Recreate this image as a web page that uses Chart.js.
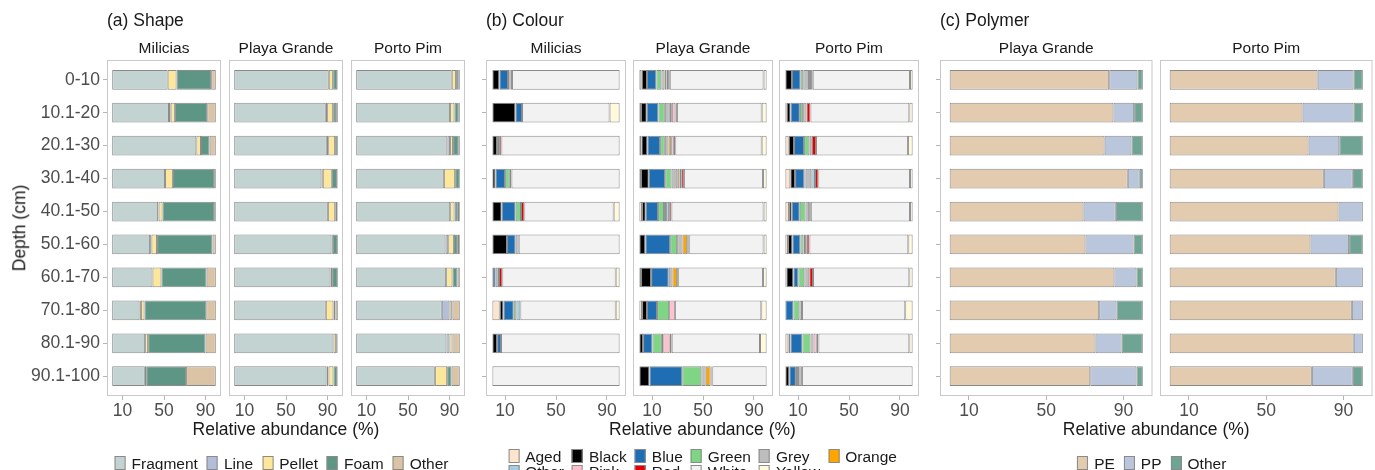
<!DOCTYPE html>
<html>
<head>
<meta charset="utf-8">
<script src="https://cdn.jsdelivr.net/npm/chart.js@4/dist/chart.umd.min.js"></script>
<style>
  html, body { margin: 0; padding: 0; background: #fff; }
  #fig { position: relative; width: 1375px; height: 470px; overflow: hidden;
         font-family: "Liberation Sans", Arial, sans-serif; }
  .panel { position: absolute; top: 0; }
  .txt { position: absolute; white-space: nowrap; line-height: 1; }
  .legend { position: absolute; display: flex; align-items: center; transform: translateX(-50%);
            font-size: 15.5px; color: #1a1a1a; line-height: 1; }
  .legend.grid { display: grid; grid-auto-rows: 15.5px; column-gap: 8px; }
  .item { display: flex; align-items: center; margin-right: 9px; }
  .grid .item { margin-right: 0; }
  .key { width: 11px; height: 14px; box-sizing: border-box; border: 1px solid #8a8a8a; margin-right: 6px; }
</style>
</head>
<body>
<div id="fig"></div>
<script>
// Depth classes (rows, top to bottom) and x tick values
const depths = ['0-10', '10.1-20', '20.1-30', '30.1-40', '40.1-50',
                '50.1-60', '60.1-70', '70.1-80', '80.1-90', '90.1-100'];
const xTicks = [10, 50, 90];

// Category order within each stacked bar
const shapeTypes = ['Fragment', 'Line', 'Pellet', 'Foam', 'Other'];
const colourTypes = ['Aged', 'Black', 'Blue', 'Green', 'Grey', 'Orange',
                     'Other', 'Pink', 'Red', 'White', 'Yellow'];
const polymerTypes = ['PE', 'PP', 'Other'];

// Relative abundance (%) per depth row; columns follow the type arrays above
const shapeMilicias = [
  [53.5, 0, 8.6, 33.4, 4.5],
  [54.8, 1.6, 4.1, 31.2, 8.3],
  [81.2, 0, 4.5, 8.3, 6.0],
  [51.0, 0, 7.6, 39.8, 1.6],
  [44.3, 0.5, 3.8, 49.8, 1.6],
  [36.6, 1.3, 5.4, 53.5, 3.2],
  [38.9, 0, 8.6, 43.6, 8.9],
  [26.4, 1.3, 3.5, 59.6, 9.2],
  [31.8, 0, 2.9, 55.4, 9.9],
  [31.5, 0, 1.3, 38.5, 28.7]
];
const shapePlayaGrande = [
  [91.3, 0, 4.2, 3.9, 0.6],
  [88.4, 1.3, 5.8, 2.9, 1.6],
  [89.4, 1.3, 6.7, 2.6, 0],
  [84.2, 1.3, 8.7, 5.2, 0.6],
  [90.4, 0, 7.1, 1.9, 0.6],
  [93.9, 0, 1.3, 4.8, 0],
  [92.9, 0, 1.6, 5.5, 0],
  [88.4, 0, 7.4, 1.9, 2.3],
  [95.8, 0, 2.6, 1.0, 0.6],
  [89.1, 1.9, 4.8, 3.6, 0.6]
];
const shapePortoPim = [
  [92.2, 0, 4.2, 2.6, 1.0],
  [90.6, 0, 4.2, 4.2, 1.0],
  [88.0, 2.6, 2.9, 5.5, 1.0],
  [84.6, 0, 10.9, 4.5, 0],
  [90.7, 0, 4.2, 3.2, 1.9],
  [86.2, 2.6, 5.5, 3.8, 1.9],
  [86.8, 0, 6.1, 4.8, 2.3],
  [82.6, 7.4, 2.3, 0.6, 7.1],
  [87.1, 2.9, 2.9, 0, 7.1],
  [75.9, 0, 11.9, 4.2, 8.0]
];

const colourMilicias = [
  [0, 5.5, 6.8, 1.0, 0.8, 1.3, 0, 0, 0, 84.6, 0],
  [0, 18.1, 5.2, 0, 0, 0, 0, 0, 0, 68.8, 7.9],
  [0, 3.7, 1.6, 0, 0, 0, 0, 0, 1.8, 92.9, 0],
  [0, 2.4, 7.6, 3.7, 0, 0, 1.3, 0, 0, 85.0, 0],
  [0, 7.3, 11.0, 4.2, 0, 0, 0, 0, 2.6, 70.2, 4.7],
  [0, 11.5, 6.8, 0, 2.4, 0, 0, 0, 0, 79.3, 0],
  [0, 0.5, 2.1, 0, 2.6, 0, 0, 0, 2.6, 89.1, 3.1],
  [5.8, 2.9, 8.1, 2.1, 0, 0, 3.1, 0, 0, 74.9, 3.1],
  [0, 3.7, 3.1, 0, 0, 0, 0, 0, 0, 93.2, 0],
  [0, 0, 0, 0, 0, 0, 0, 0, 0, 100, 0]
];
const colourPlayaGrande = [
  [1.8, 4.2, 7.4, 3.9, 2.4, 1.6, 0, 1.3, 1.3, 73.7, 2.4],
  [1.3, 4.5, 9.2, 5.0, 3.9, 1.6, 0, 2.9, 1.1, 66.6, 3.9],
  [1.6, 4.7, 10.0, 3.7, 2.9, 2.1, 0, 2.1, 1.1, 67.9, 3.9],
  [1.3, 6.1, 12.9, 5.0, 4.5, 1.8, 0, 1.3, 2.1, 62.1, 2.9],
  [2.1, 2.9, 9.7, 4.7, 1.6, 0, 2.4, 0, 1.8, 72.4, 2.4],
  [0, 4.7, 19.5, 5.5, 4.2, 3.7, 0.8, 0, 0.8, 58.4, 2.4],
  [1.3, 7.9, 13.9, 0, 2.9, 3.7, 0.8, 0, 0, 66.6, 2.9],
  [2.1, 3.9, 7.9, 9.5, 0, 0, 0, 4.5, 0, 67.9, 4.2],
  [0, 2.9, 7.4, 7.4, 1.1, 0, 0, 5.0, 1.6, 69.4, 5.2],
  [0, 7.9, 25.8, 15.0, 3.4, 3.9, 0, 0.8, 0.5, 42.7, 0]
];
const colourPortoPim = [
  [0, 5.2, 6.8, 2.1, 4.5, 0, 0, 1.6, 1.3, 76.4, 2.1],
  [1.0, 3.1, 7.3, 2.6, 2.6, 0, 0, 0, 3.1, 77.7, 2.6],
  [2.6, 4.2, 7.9, 4.2, 1.8, 0, 0, 0, 3.4, 72.2, 3.7],
  [3.9, 3.7, 7.3, 1.0, 4.5, 0, 2.9, 0, 2.6, 72.0, 2.1],
  [2.9, 2.1, 6.3, 4.5, 2.9, 0, 0, 0, 1.3, 77.9, 2.1],
  [2.1, 3.4, 6.3, 2.4, 1.3, 1.3, 0, 0, 2.1, 77.7, 3.4],
  [0.8, 5.5, 3.9, 4.7, 3.9, 0, 0, 0, 2.9, 75.7, 2.6],
  [0, 0, 6.3, 4.7, 2.1, 0, 0, 0, 0, 81.1, 5.8],
  [2.4, 1.6, 9.4, 6.3, 2.4, 0, 0, 2.6, 1.3, 71.4, 2.6],
  [0, 3.1, 5.2, 1.6, 3.1, 0, 0, 0, 0, 87.0, 0]
];

const polymerPlayaGrande = [
  [82.6, 14.6, 2.8],
  [84.8, 10.7, 4.5],
  [80.2, 13.9, 5.9],
  [92.2, 6.2, 1.6],
  [69.3, 16.7, 14.0],
  [70.3, 24.9, 4.8],
  [85.3, 11.4, 3.3],
  [77.4, 9.0, 13.6],
  [75.5, 13.5, 11.0],
  [72.8, 23.9, 3.3]
];
const polymerPortoPim = [
  [76.6, 18.6, 4.8],
  [68.8, 26.4, 4.8],
  [71.9, 15.9, 12.2],
  [79.8, 15.0, 5.2],
  [87.4, 12.6, 0],
  [72.9, 20.0, 7.1],
  [86.0, 14.0, 0],
  [94.3, 5.7, 0],
  [95.3, 4.7, 0],
  [73.6, 21.2, 5.2]
];

// Fill colours, matching the type arrays
const shapeColours = ['#c2d3d2', '#b3bfd8', '#fde79b', '#5d9684', '#dbc4a6'];
const colourColours = ['#fde4cd', '#000000', '#1f6db3', '#7ed584', '#bdbdbd', '#ffa500',
                       '#a6cde2', '#ffc0cb', '#e50000', '#f2f2f2', '#fffadc'];
const polymerColours = ['#e3cbb0', '#bac6dc', '#6fa494'];

const EDGE = '#8a8a8a';
const FRAME = '#c9c9c9';
const TICK = '#b5b5b5';
const FONT = '"Liberation Sans", Arial, sans-serif';
Chart.defaults.font.family = FONT;

const groups = {
  shape:   { title: '(a) Shape',   types: shapeTypes,   colours: shapeColours },
  colour:  { title: '(b) Colour',  types: colourTypes,  colours: colourColours },
  polymer: { title: '(c) Polymer', types: polymerTypes, colours: polymerColours }
};

// Facet panels: frame left edge and width in page pixels
const panels = [
  { group: 'shape',   site: 'Milicias',     rows: shapeMilicias,      left: 107,  width: 114,   yAxis: 'labels' },
  { group: 'shape',   site: 'Playa Grande', rows: shapePlayaGrande,   left: 229,  width: 114,   yAxis: 'none' },
  { group: 'shape',   site: 'Porto Pim',    rows: shapePortoPim,      left: 351,  width: 114,   yAxis: 'none' },
  { group: 'colour',  site: 'Milicias',     rows: colourMilicias,     left: 486,  width: 140,   yAxis: 'ticks' },
  { group: 'colour',  site: 'Playa Grande', rows: colourPlayaGrande,  left: 633,  width: 140,   yAxis: 'none' },
  { group: 'colour',  site: 'Porto Pim',    rows: colourPortoPim,     left: 779,  width: 140,   yAxis: 'none' },
  { group: 'polymer', site: 'Playa Grande', rows: polymerPlayaGrande, left: 940,  width: 212.5, yAxis: 'ticks' },
  { group: 'polymer', site: 'Porto Pim',    rows: polymerPortoPim,    left: 1160, width: 212.5, yAxis: 'none' }
];

const FRAME_TOP = 60, FRAME_BOTTOM = 396, CANVAS_H = 420;
const fig = document.getElementById('fig');

// Panel border around the plotting area
const framePlugin = {
  id: 'frame',
  afterDatasetsDraw(chart) {
    const { ctx, chartArea: a } = chart;
    ctx.save();
    ctx.strokeStyle = FRAME;
    ctx.lineWidth = 1;
    ctx.strokeRect(a.left + 0.5, a.top + 0.5, a.width - 1, a.height - 1);
    ctx.restore();
  }
};

function makePanel(p) {
  const g = groups[p.group];
  const yw = p.yAxis === 'labels' ? p.left : (p.yAxis === 'ticks' ? 8 : 0);
  const w = Math.ceil(yw + p.width);
  const div = document.createElement('div');
  div.className = 'panel';
  div.style.left = (p.left - yw) + 'px';
  const cv = document.createElement('canvas');
  cv.width = w; cv.height = CANVAS_H;
  cv.style.width = w + 'px'; cv.style.height = CANVAS_H + 'px';
  div.appendChild(cv);
  fig.appendChild(div);

  const datasets = g.types.map((t, j) => ({
    label: t,
    data: p.rows.map((r, i) => ({ x: r[j] > 0 ? r[j] : null, y: i })),
    backgroundColor: g.colours[j],
    borderColor: EDGE,
    borderWidth: 1,
    borderSkipped: false,
    barPercentage: 0.6,
    categoryPercentage: 1
  }));

  new Chart(cv, {
    type: 'bar',
    data: { datasets },
    options: {
      indexAxis: 'y',
      responsive: false,
      animation: false,
      events: [],
      layout: { padding: { top: FRAME_TOP, bottom: 0, left: 0, right: w - yw - p.width } },
      plugins: { legend: { display: false }, tooltip: { enabled: false } },
      scales: {
        x: {
          type: 'linear', stacked: true, min: -5, max: 105, offset: false,
          afterBuildTicks: s => { s.ticks = xTicks.map(v => ({ value: v })); },
          afterFit: s => { s.height = CANVAS_H - FRAME_BOTTOM; },
          grid: { drawOnChartArea: false, drawTicks: true, tickLength: 4, color: TICK, offset: false },
          border: { display: false },
          ticks: { color: '#4d4d4d', font: { size: 17.5 }, padding: 1, maxRotation: 0, autoSkip: false }
        },
        y: {
          type: 'linear', stacked: true, reverse: true, min: -0.6, max: 9.6, offset: false,
          display: yw > 0,
          afterBuildTicks: s => { s.ticks = depths.map((_, i) => ({ value: i })); },
          afterFit: s => { s.width = yw; },
          grid: { drawOnChartArea: false, drawTicks: true, tickLength: 4, color: TICK, offset: false },
          border: { display: false },
          ticks: {
            display: p.yAxis === 'labels',
            color: '#4d4d4d', font: { size: 17.5 }, padding: 3, autoSkip: false,
            callback: v => depths[v]
          }
        }
      }
    },
    plugins: [framePlugin]
  });

  addText(p.site, p.left + p.width / 2, 48, 15.5, '#1a1a1a', 'center');
}

function addText(str, x, y, size, color, anchor, rotate) {
  const d = document.createElement('div');
  d.className = 'txt';
  d.textContent = str;
  d.style.left = x + 'px';
  d.style.top = y + 'px';
  d.style.fontSize = size + 'px';
  d.style.color = color;
  const tx = anchor === 'center' ? '-50%' : (anchor === 'left' ? '0' : '-100%');
  d.style.transform = `translate(${tx}, -50%)` + (rotate ? ` rotate(${rotate}deg)` : '');
  fig.appendChild(d);
}

function makeLegend(types, colours, cx, top, cols) {
  const box = document.createElement('div');
  box.className = 'legend' + (cols ? ' grid' : '');
  if (cols) box.style.gridTemplateColumns = `repeat(${cols}, auto)`;
  box.style.left = cx + 'px';
  box.style.top = top + 'px';
  types.forEach((t, j) => {
    const it = document.createElement('div');
    it.className = 'item';
    const k = document.createElement('span');
    k.className = 'key';
    k.style.background = colours[j];
    const s = document.createElement('span');
    s.textContent = t;
    it.appendChild(k); it.appendChild(s);
    box.appendChild(it);
  });
  fig.appendChild(box);
}

panels.forEach(makePanel);

// Group titles, shared axis titles and legends
Object.keys(groups).forEach(key => {
  const ps = panels.filter(p => p.group === key);
  const l = ps[0].left, r = ps[ps.length - 1].left + ps[ps.length - 1].width;
  const cx = (l + r) / 2;
  addText(groups[key].title, l, 21, 17.5, '#1a1a1a', 'left');
  addText('Relative abundance (%)', cx, 430, 17.5, '#1a1a1a', 'center');
  if (key === 'colour') {
    makeLegend(groups[key].types, groups[key].colours, cx, 448.5, 6);
  } else {
    makeLegend(groups[key].types, groups[key].colours, cx, 455.5, 0);
  }
});
addText('Depth (cm)', 20, 228, 17.5, '#1a1a1a', 'center', -90);
</script>
</body>
</html>
